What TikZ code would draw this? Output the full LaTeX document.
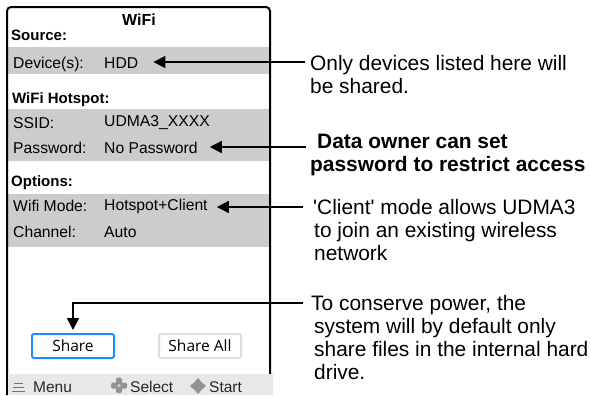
\documentclass[tikz,border=0pt]{standalone}
\usepackage{fontspec}
\setmainfont{Liberation Sans}
\newfontfamily\btnfont{Open Sans}
\usetikzlibrary{arrows.meta}
\definecolor{bandgray}{HTML}{CCCCCC}
\definecolor{bargray}{HTML}{E8E8E8}
\definecolor{icongray}{HTML}{939393}
\definecolor{btnblue}{HTML}{1E8FFA}
\definecolor{btnedge}{HTML}{DDDDDD}
\begin{document}
\begin{tikzpicture}[x=1bp,y=-1bp,
  lbl/.style={anchor=base west, inner sep=0, font=\fontsize{15.7bp}{18bp}\selectfont},
  hdr/.style={anchor=base west, inner sep=0, font=\fontsize{15bp}{18bp}\selectfont\bfseries},
  note/.style={anchor=base west, inner sep=0, font=\fontsize{20.9bp}{23bp}\selectfont},
  bnote/.style={note, font=\fontsize{20.9bp}{23bp}\selectfont\bfseries},
  bartxt/.style={anchor=base west, inner sep=0, text=black!85, font=\fontsize{15.5bp}{18bp}\selectfont},
  arr/.style={line width=1.6bp, -{Triangle[length=12bp,width=12bp]}},
  btn/.style={minimum width=82bp, minimum height=24bp, inner sep=0, line width=2bp,
    rounded corners=2bp, fill=white, font=\btnfont\fontsize{15.5bp}{18bp}\selectfont},
  iconline/.style={draw=black!55, line width=1.2bp}
]
\useasboundingbox (0,0) rectangle (591,395);
\fill[white] (0,0) rectangle (591,395);

% gray bands
\fill[bandgray] (8,47) rectangle (269,74);
\fill[bandgray] (8,109) rectangle (269,161);
\fill[bandgray] (8,194) rectangle (269,247);

% screen frame
\draw[line width=2bp, rounded corners=4bp] (7,395) -- (7,7) -- (270,7) -- (270,374);

% bottom bar
\fill[bargray] (8,374) rectangle (273,395);

% title and headers
\node[anchor=base, inner sep=0, font=\fontsize{16bp}{18bp}\selectfont\bfseries] (title) at (139,25) {WiFi};
\node[hdr] (hsrc) at (11,40) {Source:};
\node[hdr] (hhot) at (12,103) {WiFi Hotspot:};
\node[hdr] (hopt) at (11,186) {Options:};

% rows
\node[lbl] (ldev) at (13,68) {Device(s):};
\node[lbl] (vdev) at (104,68) {HDD};
\node[lbl] (lssid) at (13,128) {SSID:};
\node[lbl] (vssid) at (104,126) {UDMA3\_XXXX};
\node[lbl] (lpw) at (13,153) {Password:};
\node[lbl] (vpw) at (104,153) {No Password};
\node[lbl] (lmode) at (13,211) {Wifi Mode:};
\node[lbl] (vmode) at (104,210) {Hotspot+Client};
\node[lbl] (lch) at (13,237) {Channel:};
\node[lbl] (vch) at (104,237) {Auto};

% buttons
\node[btn, draw=btnblue] (share) at (73,346) {Share};
\node[btn, draw=btnedge] (shareall) at (200,346) {Share All};

% bottom bar icons and texts
\draw[iconline] (14,383.5) -- (23,383.5);
\draw[iconline] (13,387.5) -- (24,387.5);
\draw[iconline] (12,391.5) -- (25,391.5);
\node[bartxt] (menu) at (33,392) {Menu};
\fill[icongray, rounded corners=1.5bp] (111,382.5) rectangle (127,388.5);
\fill[icongray, rounded corners=1.5bp] (116,377.5) rectangle (122,393);
\fill[black!20] (119,385.5) circle (1.8bp);
\node[bartxt] (select) at (130,392) {Select};
\fill[icongray, rounded corners=1bp] (206.5,386) -- (201.6,382.4) -- (198,377.5) -- (194.4,382.4)
  -- (189.5,386) -- (194.4,389.6) -- (198,394.5) -- (201.6,389.6) -- cycle;
\node[bartxt] (start) at (209,392) {Start};

% notes
\node[note] (n1a) at (310,70) {Only devices listed here will};
\node[note] (n1b) at (310,93) {be shared.};
\node[bnote] (n2a) at (317,148) {Data owner can set};
\node[bnote] (n2b) at (310,171) {password to restrict access};
\node[note] (n3a) at (313,214) {\textquotesingle Client\textquotesingle{} mode allows UDMA3};
\node[note] (n3b) at (314,237) {to join an existing wireless};
\node[note] (n3c) at (314,260) {network};
\node[note] (n4a) at (311,310) {To conserve power, the};
\node[note] (n4b) at (314,333) {system will by default only};
\node[note] (n4c) at (314,356) {share files in the internal hard};
\node[note] (n4d) at (314,379) {drive.};

% connector ends
\coordinate (c1) at (305,62);
\coordinate (c2) at (306,147);
\coordinate (c3) at (303,207);
\coordinate (c4) at (303,303);
\coordinate (t1) at ([xshift=15bp]vdev.east);
\coordinate (t2) at ([xshift=12bp]vpw.east);
\coordinate (t3) at ([xshift=9bp]vmode.east);

\draw[arr] (c1) -- (c1 -| t1);
\draw[arr] (c2) -- (c2 -| t2);
\draw[arr] (c3) -- (c3 -| t3);
\draw[arr, shorten >=3bp] (c4) -| (share.north);
\end{tikzpicture}
\end{document}
